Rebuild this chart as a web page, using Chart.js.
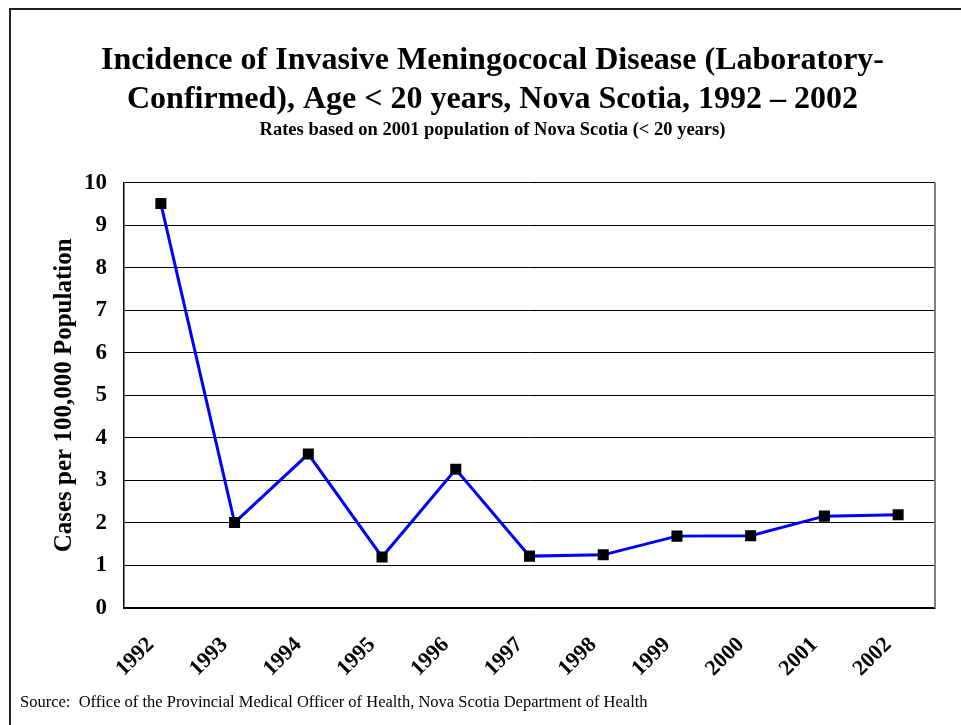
<!DOCTYPE html>
<html>
<head>
<meta charset="utf-8">
<script src="https://cdn.jsdelivr.net/npm/chart.js@4"></script>
<style>
    html, body { margin: 0; padding: 0; background: #fff; overflow: hidden; }
    #wrap { position: relative; width: 961px; height: 725px; }
    #frame { position: absolute; left: 9px; top: 8px; width: 1000px; height: 800px; border: 2px solid #222; box-sizing: border-box; pointer-events: none; }
    #source { position: absolute; left: 20px; top: 692px; font: 16.5px "Liberation Serif", "Times New Roman", serif; color: #000; white-space: pre; }
</style>
</head>
<body>
<div id="wrap">
    <canvas id="chart" width="961" height="725"></canvas>
    <div id="frame"></div>
    <div id="source">Source:  Office of the Provincial Medical Officer of Health, Nova Scotia Department of Health</div>
</div>
<script>
//data
const YEARS = ['1992', '1993', '1994', '1995', '1996', '1997', '1998', '1999', '2000', '2001', '2002'];
const RATES = [9.51, 2.01, 3.62, 1.2, 3.26, 1.22, 1.25, 1.69, 1.7, 2.16, 2.19];

//text
const TITLE = ['Incidence of Invasive Meningococal Disease (Laboratory-', 'Confirmed), Age < 20 years, Nova Scotia, 1992 \u2013 2002'];
const SUBTITLE = 'Rates based on 2001 population of Nova Scotia (< 20 years)';
const Y_TITLE = 'Cases per 100,000 Population';

const SERIF = '"Liberation Serif", "Times New Roman", serif';

//gray right edge of the plot box
const rightEdge = {
    id: 'rightEdge',
    afterDatasetsDraw(chart) {
        const a = chart.chartArea;
        const ctx = chart.ctx;
        ctx.save();
        ctx.strokeStyle = '#808080';
        ctx.lineWidth = 2;
        ctx.beginPath();
        ctx.moveTo(a.right, a.top);
        ctx.lineTo(a.right, a.bottom);
        ctx.stroke();
        ctx.restore();
    }
};

const whiteBg = {
    id: 'whiteBg',
    beforeDraw(chart) {
        const ctx = chart.ctx;
        ctx.save();
        ctx.fillStyle = '#fff';
        ctx.fillRect(0, 0, chart.width, chart.height);
        ctx.restore();
    }
};

new Chart(document.getElementById('chart'), {
    type: 'line',
    data: {
        labels: YEARS,
        datasets: [{
            label: 'Rate',
            data: RATES,
            borderColor: '#0000ff',
            borderWidth: 3,
            pointStyle: 'rect',
            pointRadius: 7.8,
            pointBorderWidth: 0,
            pointBackgroundColor: '#000',
            tension: 0
        }]
    },
    options: {
        responsive: false,
        animation: false,
        layout: { padding: { left: 50, right: 26, top: 0, bottom: 37 } },
        plugins: {
            legend: { display: false },
            tooltip: { enabled: false },
            title: {
                display: true,
                text: TITLE,
                color: '#000',
                font: { family: SERIF, size: 32, weight: 'bold', lineHeight: 1.2 },
                padding: { top: 42, bottom: 0 }
            },
            subtitle: {
                display: true,
                text: SUBTITLE,
                color: '#000',
                font: { family: SERIF, size: 18.5, weight: 'bold', lineHeight: 1.2 },
                padding: { top: 0, bottom: 41.7 }
            }
        },
        scales: {
            x: {
                offset: true,
                grid: { display: false },
                border: { color: '#000', width: 1.5 },
                ticks: {
                    color: '#000',
                    font: { family: SERIF, size: 22, weight: 'bold' },
                    minRotation: 45,
                    maxRotation: 45,
                    labelOffset: -10,
                    padding: 16
                },
                afterFit: s => { s.height = 80; }
            },
            y: {
                min: 0,
                max: 10,
                ticks: {
                    stepSize: 1,
                    color: '#000',
                    font: { family: SERIF, size: 23, weight: 'bold' },
                    padding: 17
                },
                grid: { color: '#000', lineWidth: 1, drawTicks: false },
                border: { color: '#000', width: 1.5 },
                title: {
                    display: true,
                    text: Y_TITLE,
                    color: '#000',
                    font: { family: SERIF, size: 25, weight: 'bold', lineHeight: 1.2 },
                    padding: 0
                },
                afterFit: s => { s.width = 74; }
            }
        }
    },
    plugins: [whiteBg, rightEdge]
});
</script>
</body>
</html>
